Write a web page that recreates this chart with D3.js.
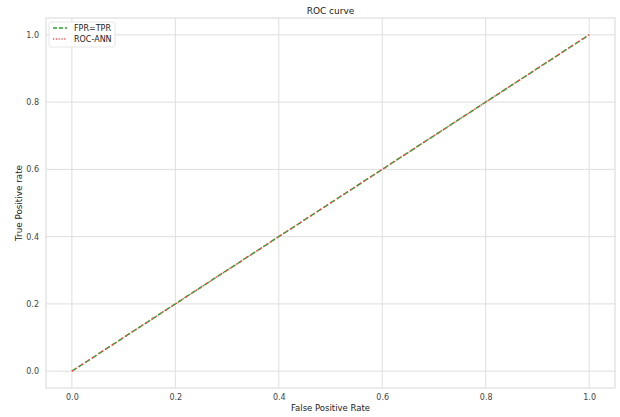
<!DOCTYPE html>
<html>
<head>
<meta charset="utf-8">
<script src="https://cdn.jsdelivr.net/npm/d3@7"></script>
<style>
  html, body { margin: 0; padding: 0; background: #fff; }
  svg { display: block; font-family: "DejaVu Sans", sans-serif; }
</style>
</head>
<body>
<svg id="chart" width="620" height="417"></svg>
<script>
// Reference diagonal (random classifier) and the network's ROC points
const diagFpr = [0, 1];
const diagTpr = [0, 1];
const annFpr = [0, 1];
const annTpr = [0, 1];
const xTicks = [0.0, 0.2, 0.4, 0.6, 0.8, 1.0];
const yTicks = [0.0, 0.2, 0.4, 0.6, 0.8, 1.0];

const svg = d3.select("#chart");
const margin = { left: 46, top: 18, right: 5, bottom: 29 };
const W = 620, H = 417;

const x = d3.scaleLinear().domain([-0.05, 1.05]).range([margin.left, W - margin.right]);
const y = d3.scaleLinear().domain([-0.05, 1.05]).range([H - margin.bottom, margin.top]);

const gridColor = "#dedede";
const textColor = "#444";

// grid
svg.append("g").selectAll("line").data(xTicks).join("line")
  .attr("x1", d => x(d)).attr("x2", d => x(d))
  .attr("y1", y.range()[1]).attr("y2", y.range()[0])
  .attr("stroke", gridColor).attr("stroke-width", 1);
svg.append("g").selectAll("line").data(yTicks).join("line")
  .attr("y1", d => y(d)).attr("y2", d => y(d))
  .attr("x1", x.range()[0]).attr("x2", x.range()[1])
  .attr("stroke", gridColor).attr("stroke-width", 1);

// frame
svg.append("rect")
  .attr("x", x.range()[0]).attr("y", y.range()[1])
  .attr("width", x.range()[1] - x.range()[0])
  .attr("height", y.range()[0] - y.range()[1])
  .attr("fill", "none").attr("stroke", gridColor).attr("stroke-width", 1.2);

// axes (labels only, no tick marks)
const xAxis = svg.append("g")
  .attr("transform", `translate(0,${y.range()[0]})`)
  .call(d3.axisBottom(x).tickValues(xTicks).tickFormat(d3.format(".1f")).tickSize(0).tickPadding(6));
const yAxis = svg.append("g")
  .attr("transform", `translate(${x.range()[0]},0)`)
  .call(d3.axisLeft(y).tickValues(yTicks).tickFormat(d3.format(".1f")).tickSize(0).tickPadding(7));
[xAxis, yAxis].forEach(g => {
  g.select(".domain").remove();
  g.selectAll("text").attr("fill", textColor).style("font-size", "8px")
    .style("font-family", "DejaVu Sans, sans-serif");
});

// curves
const line = d3.line().x(d => x(d[0])).y(d => y(d[1]));
svg.append("path")
  .datum(d3.zip(diagFpr, diagTpr))
  .attr("d", line).attr("fill", "none")
  .attr("stroke", "#2ca02c").attr("stroke-width", 1.5)
  .attr("stroke-dasharray", "5.5,2.4");
svg.append("path")
  .datum(d3.zip(annFpr, annTpr))
  .attr("d", line).attr("fill", "none")
  .attr("stroke", "#ff4a4a").attr("stroke-width", 1.5)
  .attr("stroke-dasharray", "1.5,2.5");

// title and axis labels
svg.append("text").attr("x", (x.range()[0] + x.range()[1]) / 2).attr("y", 14)
  .attr("text-anchor", "middle").attr("fill", "#222").style("font-size", "9px")
  .text("ROC curve");
svg.append("text").attr("x", (x.range()[0] + x.range()[1]) / 2).attr("y", 411)
  .attr("text-anchor", "middle").attr("fill", "#222").style("font-size", "8.5px")
  .text("False Positive Rate");
svg.append("text")
  .attr("transform", `translate(22,${(y.range()[0] + y.range()[1]) / 2}) rotate(-90)`)
  .attr("text-anchor", "middle").attr("fill", "#222").style("font-size", "8.8px")
  .text("True Positive rate");

// legend
const legend = svg.append("g").attr("transform", "translate(49,22)");
legend.append("rect").attr("width", 66).attr("height", 25).attr("rx", 2)
  .attr("fill", "#fff").attr("fill-opacity", 0.8).attr("stroke", "#e6e6e6");
const entries = [
  { label: "FPR=TPR", color: "#2ca02c", dash: "4,2" },
  { label: "ROC-ANN", color: "#ff4a4a", dash: "1.2,1.6" }
];
entries.forEach((e, i) => {
  const yy = 6 + i * 11;
  legend.append("line").attr("x1", 4).attr("x2", 18).attr("y1", yy).attr("y2", yy)
    .attr("stroke", e.color).attr("stroke-width", 1.5).attr("stroke-dasharray", e.dash);
  legend.append("text").attr("x", 25).attr("y", yy + 3).attr("fill", "#222")
    .style("font-size", "8px").text(e.label);
});
</script>
</body>
</html>
